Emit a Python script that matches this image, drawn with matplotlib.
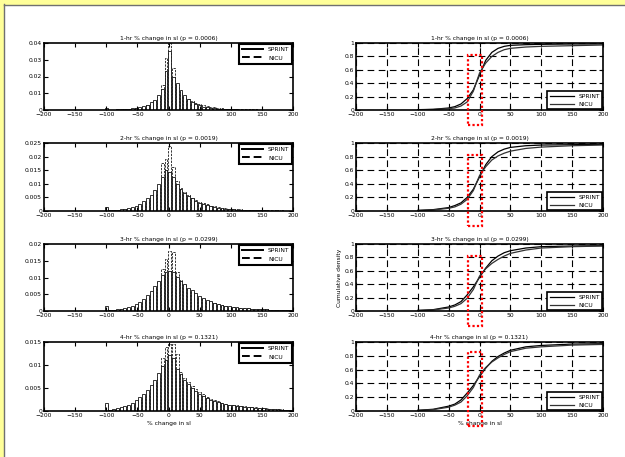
import numpy as np
import matplotlib
matplotlib.use("Agg")
import matplotlib.pyplot as plt
from matplotlib.patches import Rectangle
from matplotlib.ticker import FuncFormatter

# bin centres of the % change histograms (-100 ... 200)
bins = np.arange(-100, 201, 6)
hours = ["1-hr", "2-hr", "3-hr", "4-hr"]
pvals = ["0.0006", "0.0019", "0.0299", "0.1321"]
hist_ymax = [0.04, 0.025, 0.02, 0.015]
hist_ystep = [0.01, 0.005, 0.005, 0.005]

sprint_1 = [0.0012, 0.0002, 0.0002, 0.0003, 0.0004, 0.0005, 0.0008, 0.0010, 0.0013, 0.0018,
            0.0024, 0.0032, 0.0045, 0.0062, 0.0090, 0.0125, 0.0230, 0.0350, 0.0200, 0.0160,
            0.0120, 0.0088, 0.0065, 0.0048, 0.0036, 0.0027, 0.0020, 0.0015, 0.0012, 0.0009,
            0.0007, 0.0006, 0.0005, 0.0004, 0.0003,
            0.0003, 0.0002, 0.0002, 0.0002, 0.0001, 0.0001, 0.0001, 0.0001, 0.0001, 0.0001,
            0.0001, 0.0, 0.0, 0.0, 0.0, 0.0]
nicu_1 = [0.0008, 0.0001, 0.0001, 0.0002, 0.0002, 0.0003, 0.0005, 0.0007, 0.0010, 0.0014,
          0.0019, 0.0027, 0.0038, 0.0055, 0.0080, 0.0150, 0.0310, 0.0400, 0.0250, 0.0150,
          0.0110, 0.0085, 0.0066, 0.0052, 0.0042, 0.0034, 0.0028, 0.0023, 0.0019, 0.0015,
          0.0012, 0.0010, 0.0008, 0.0007, 0.0006,
          0.0005, 0.0004, 0.0004, 0.0003, 0.0003, 0.0003, 0.0002, 0.0002, 0.0002, 0.0002,
          0.0001, 0.0001, 0.0001, 0.0001, 0.0001, 0.0]

sprint_2 = [0.0015, 0.0002, 0.0003, 0.0004, 0.0006, 0.0008, 0.0011, 0.0015, 0.0020, 0.0027,
            0.0035, 0.0046, 0.0060, 0.0078, 0.0098, 0.0125, 0.0150, 0.0145, 0.0125, 0.0098,
            0.0082, 0.0068, 0.0056, 0.0046, 0.0038, 0.0031, 0.0026, 0.0021, 0.0017, 0.0014,
            0.0012, 0.0010, 0.0008, 0.0007, 0.0006,
            0.0005, 0.0004, 0.0004, 0.0003, 0.0003, 0.0002, 0.0002, 0.0002, 0.0002, 0.0001,
            0.0001, 0.0001, 0.0001, 0.0001, 0.0, 0.0]
nicu_2 = [0.0010, 0.0001, 0.0002, 0.0003, 0.0004, 0.0006, 0.0008, 0.0011, 0.0015, 0.0020,
          0.0027, 0.0036, 0.0048, 0.0064, 0.0085, 0.0175, 0.0190, 0.0240, 0.0160, 0.0110,
          0.0085, 0.0070, 0.0058, 0.0048, 0.0040, 0.0034, 0.0029, 0.0024, 0.0020, 0.0017,
          0.0014, 0.0012, 0.0010, 0.0009, 0.0008,
          0.0007, 0.0006, 0.0005, 0.0005, 0.0004, 0.0004, 0.0003, 0.0003, 0.0003, 0.0002,
          0.0002, 0.0002, 0.0002, 0.0001, 0.0001, 0.0001]

sprint_3 = [0.0015, 0.0003, 0.0004, 0.0005, 0.0007, 0.0009, 0.0012, 0.0016, 0.0021, 0.0028,
            0.0037, 0.0048, 0.0060, 0.0075, 0.0090, 0.0108, 0.0117, 0.0120, 0.0115, 0.0102,
            0.0090, 0.0080, 0.0070, 0.0062, 0.0054, 0.0046, 0.0040, 0.0034, 0.0029, 0.0025,
            0.0021, 0.0018, 0.0016, 0.0014, 0.0012,
            0.0011, 0.0010, 0.0009, 0.0008, 0.0007, 0.0007, 0.0006, 0.0005, 0.0005, 0.0004,
            0.0004, 0.0004, 0.0003, 0.0003, 0.0003, 0.0002]
nicu_3 = [0.0010, 0.0002, 0.0003, 0.0004, 0.0005, 0.0007, 0.0009, 0.0012, 0.0016, 0.0022,
          0.0030, 0.0040, 0.0052, 0.0068, 0.0088, 0.0125, 0.0155, 0.0180, 0.0175, 0.0115,
          0.0092, 0.0078, 0.0066, 0.0057, 0.0049, 0.0042, 0.0036, 0.0031, 0.0027, 0.0023,
          0.0020, 0.0017, 0.0015, 0.0013, 0.0012,
          0.0010, 0.0009, 0.0008, 0.0008, 0.0007, 0.0006, 0.0006, 0.0005, 0.0005, 0.0004,
          0.0004, 0.0003, 0.0003, 0.0003, 0.0002, 0.0002]

sprint_4 = [0.0018, 0.0003, 0.0005, 0.0007, 0.0008, 0.0011, 0.0014, 0.0018, 0.0023, 0.0030,
            0.0037, 0.0046, 0.0057, 0.0068, 0.0082, 0.0098, 0.0110, 0.0122, 0.0115, 0.0092,
            0.0080, 0.0068, 0.0059, 0.0051, 0.0044, 0.0038, 0.0033, 0.0029, 0.0025, 0.0022,
            0.0019, 0.0017, 0.0015, 0.0013, 0.0012,
            0.0011, 0.0010, 0.0009, 0.0008, 0.0008, 0.0007, 0.0006, 0.0006, 0.0005, 0.0005,
            0.0004, 0.0004, 0.0003, 0.0003, 0.0003, 0.0002]
nicu_4 = [0.0012, 0.0002, 0.0003, 0.0005, 0.0006, 0.0008, 0.0011, 0.0014, 0.0018, 0.0024,
          0.0030, 0.0038, 0.0048, 0.0060, 0.0075, 0.0115, 0.0140, 0.0145, 0.0145, 0.0125,
          0.0085, 0.0072, 0.0063, 0.0055, 0.0048, 0.0042, 0.0036, 0.0031, 0.0027, 0.0024,
          0.0021, 0.0018, 0.0016, 0.0014, 0.0013,
          0.0012, 0.0011, 0.0010, 0.0009, 0.0008, 0.0008, 0.0007, 0.0006, 0.0006, 0.0005,
          0.0005, 0.0004, 0.0004, 0.0003, 0.0003, 0.0003]

sprint_hist = [sprint_1, sprint_2, sprint_3, sprint_4]
nicu_hist = [nicu_1, nicu_2, nicu_3, nicu_4]

# cumulative density curves
cdf_x = [-100, -75, -50, -40, -30, -20, -10, 0, 10, 20, 30, 40, 50, 75, 100, 150, 200]
sprint_cdf = [
    [0.005, 0.01, 0.03, 0.05, 0.09, 0.17, 0.30, 0.52, 0.74, 0.86, 0.92, 0.95, 0.965, 0.975, 0.98, 0.985, 0.985],
    [0.01, 0.02, 0.05, 0.08, 0.12, 0.20, 0.32, 0.50, 0.68, 0.80, 0.87, 0.91, 0.935, 0.96, 0.97, 0.975, 0.98],
    [0.01, 0.02, 0.06, 0.09, 0.14, 0.24, 0.36, 0.50, 0.64, 0.75, 0.82, 0.87, 0.90, 0.94, 0.96, 0.97, 0.975],
    [0.01, 0.025, 0.07, 0.10, 0.16, 0.26, 0.37, 0.50, 0.62, 0.72, 0.79, 0.84, 0.88, 0.93, 0.95, 0.97, 0.975],
]
nicu_cdf = [
    [0.003, 0.008, 0.02, 0.03, 0.06, 0.12, 0.28, 0.55, 0.70, 0.80, 0.86, 0.90, 0.92, 0.94, 0.95, 0.96, 0.97],
    [0.005, 0.015, 0.04, 0.06, 0.10, 0.17, 0.30, 0.52, 0.65, 0.75, 0.81, 0.85, 0.88, 0.92, 0.94, 0.96, 0.97],
    [0.005, 0.015, 0.045, 0.07, 0.11, 0.19, 0.32, 0.52, 0.63, 0.71, 0.77, 0.82, 0.86, 0.91, 0.94, 0.96, 0.97],
    [0.008, 0.02, 0.055, 0.085, 0.13, 0.22, 0.34, 0.52, 0.63, 0.71, 0.77, 0.82, 0.86, 0.91, 0.93, 0.955, 0.965],
]
box_top = [0.82, 0.82, 0.82, 0.86]

W, H = 625, 457
fig = plt.figure(figsize=(W / 100, H / 100), dpi=100)
fig.patch.set_facecolor("white")

# slide frame: yellow strip top and left with grey edge
fig.patches.append(Rectangle((0, 0), 3 / W, 1, transform=fig.transFigure, color="#ffff99", zorder=0))
fig.patches.append(Rectangle((0, 1 - 4 / H), 1, 4 / H, transform=fig.transFigure, color="#ffff99", zorder=0))
fig.add_artist(plt.Line2D([3.5 / W, 3.5 / W], [0, 1 - 4 / H], transform=fig.transFigure, color="#707070", lw=1))
fig.add_artist(plt.Line2D([3.5 / W, 1], [1 - 4.5 / H, 1 - 4.5 / H], transform=fig.transFigure, color="#707070", lw=1))

rows_px = [(43, 110), (143, 211), (244, 311), (342, 411)]
fs = 4.3


def style_axes(ax):
    for s in ax.spines.values():
        s.set_linewidth(1.2)
    ax.tick_params(direction="in", top=True, right=True, labelsize=fs, length=3, width=0.8, pad=1.5)
    ax.set_xlim(-200, 200)
    ax.set_xticks(np.arange(-200, 201, 50))


for i in range(4):
    top, bot = rows_px[i]
    b = 1 - bot / H
    h = (bot - top) / H

    # histogram: NICU (dashed) behind, SPRINT (solid) in front
    ax = fig.add_axes([44 / W, b, 249 / W, h])
    ax.bar(bins, nicu_hist[i], width=4.6, color="white", edgecolor="black", linewidth=0.55,
           linestyle=(0, (3, 1.5)), label="NICU")
    ax.bar(bins, sprint_hist[i], width=4.6, color="white", edgecolor="black", linewidth=0.55, label="SPRINT")
    style_axes(ax)
    ax.set_ylim(0, hist_ymax[i])
    ax.set_yticks(np.arange(0, hist_ymax[i] + 1e-9, hist_ystep[i]))
    ax.yaxis.set_major_formatter(FuncFormatter(lambda v, p: "%g" % round(v, 4)))
    ax.set_title("%s %% change in sI (p = %s)" % (hours[i], pvals[i]), fontsize=fs, pad=2)
    hs = [plt.Line2D([], [], color="black", lw=1.4), plt.Line2D([], [], color="black", lw=1.4, ls=(0, (4, 2)))]
    leg = ax.legend(hs, ["SPRINT", "NICU"], loc="upper right", fontsize=fs, frameon=True, fancybox=False,
                    framealpha=1, borderaxespad=0.1, handlelength=3.5, borderpad=0.5, labelspacing=0.6)
    leg.get_frame().set_edgecolor("black")
    leg.get_frame().set_linewidth(1.5)
    if i == 3:
        ax.set_xlabel("% change in sI", fontsize=fs, labelpad=2)

    # cumulative density
    ax2 = fig.add_axes([356 / W, b, 247 / W, h])
    ax2.plot(cdf_x, sprint_cdf[i], color="black", lw=0.9, label="SPRINT")
    ax2.plot(cdf_x, nicu_cdf[i], color="#333333", lw=0.9, label="NICU")
    style_axes(ax2)
    ax2.set_ylim(0, 1)
    ax2.set_yticks(np.arange(0, 1.01, 0.2))
    ax2.yaxis.set_major_formatter(FuncFormatter(lambda v, p: "%g" % round(v, 2)))
    ax2.grid(True, color="black", linestyle=(0, (6, 4)), linewidth=0.8)
    ax2.set_title("%s %% change in sI (p = %s)" % (hours[i], pvals[i]), fontsize=fs, pad=2)
    leg2 = ax2.legend(loc="lower right", fontsize=fs, frameon=True, fancybox=False, framealpha=1,
                      borderaxespad=0.1, handlelength=4, borderpad=0.4, labelspacing=0.5)
    leg2.get_frame().set_edgecolor("black")
    leg2.get_frame().set_linewidth(1.2)
    ax2.add_patch(Rectangle((-19, -0.22), 23, box_top[i] + 0.22, fill=False, edgecolor="red",
                            linestyle=(0, (1, 1)), linewidth=1.6, clip_on=False, zorder=5))
    if i == 2:
        ax2.set_ylabel("Cumulative density", fontsize=fs, labelpad=2)
    if i == 3:
        ax2.set_xlabel("% change in sI", fontsize=fs, labelpad=2)

fig.savefig("out.png", dpi=100)
